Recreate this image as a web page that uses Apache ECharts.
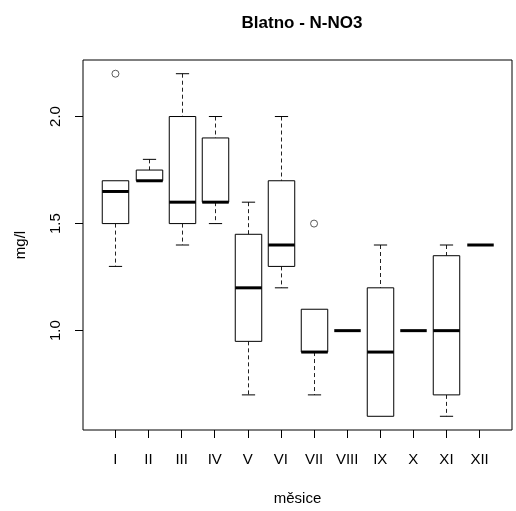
<!DOCTYPE html>
<html>
<head>
<meta charset="utf-8">
<script src="https://cdn.jsdelivr.net/npm/echarts@6/dist/echarts.min.js"></script>
<style>html,body{margin:0;padding:0;background:#fff}#c{width:516px;height:511px}</style>
</head>
<body>
<div id="c"></div>
<script>
// Months (categories)
const months = ['I','II','III','IV','V','VI','VII','VIII','IX','X','XI','XII'];
// Box statistics per month: lower whisker, Q1, median, Q3, upper whisker
const lowerWhisker = [1.3, 1.7, 1.4, 1.5, 0.7, 1.2, 0.7, 1.0, 0.6, 1.0, 0.6, 1.4];
const q1           = [1.5, 1.7, 1.5, 1.6, 0.95, 1.3, 0.9, 1.0, 0.6, 1.0, 0.7, 1.4];
const median       = [1.65, 1.7, 1.6, 1.6, 1.2, 1.4, 0.9, 1.0, 0.9, 1.0, 1.0, 1.4];
const q3           = [1.7, 1.75, 2.0, 1.9, 1.45, 1.7, 1.1, 1.0, 1.2, 1.0, 1.35, 1.4];
const upperWhisker = [1.7, 1.8, 2.2, 2.0, 1.6, 2.0, 1.1, 1.0, 1.4, 1.0, 1.4, 1.4];
// Outliers: [month index (1-based), value]
const outlierMonth = [1, 7];
const outlierValue = [2.2, 1.5];
// Tick values
const yTicks = [1.0, 1.5, 2.0];
const xTicks = [1,2,3,4,5,6,7,8,9,10,11,12];

const boxData = months.map((m, i) => [i + 1, lowerWhisker[i], q1[i], median[i], q3[i], upperWhisker[i]]);
const outData = outlierMonth.map((m, i) => [m, outlierValue[i]]);

const FONT = 'Liberation Sans, Arial, sans-serif';
const chart = echarts.init(document.getElementById('c'), null, {renderer: 'canvas'});

function renderBox(params, api) {
  const x = api.value(0);
  const lw = api.value(1), a = api.value(2), md = api.value(3), b = api.value(4), uw = api.value(5);
  const unit = api.size([1, 0])[0];
  const half = unit * 0.8 / 2;
  const capHalf = half / 2;
  const pLW = api.coord([x, lw]), pA = api.coord([x, a]), pM = api.coord([x, md]),
        pB = api.coord([x, b]), pUW = api.coord([x, uw]);
  const cx = Math.round(pM[0]) + 0.5;
  const children = [];
  const line = (x1, y1, x2, y2, w, dash, col) => ({
    type: 'line',
    shape: {x1, y1, x2, y2},
    style: {stroke: col || '#000', lineWidth: w, lineDash: dash || null, fill: null}
  });
  // whiskers
  if (uw > b) {
    children.push(line(cx, pUW[1], cx, pB[1], 1, [4, 3], '#222'));
    children.push(line(cx - capHalf, pUW[1], cx + capHalf, pUW[1], 1));
  }
  if (lw < a) {
    children.push(line(cx, pA[1], cx, pLW[1], 1, [4, 3], '#222'));
    children.push(line(cx - capHalf, pLW[1], cx + capHalf, pLW[1], 1));
  }
  // box
  if (b > a) {
    children.push({
      type: 'rect',
      shape: {x: cx - half, y: pB[1], width: half * 2, height: pA[1] - pB[1]},
      style: {stroke: '#000', lineWidth: 1, fill: '#fff'}
    });
  }
  // median
  children.push(line(cx - half, pM[1], cx + half, pM[1], 3));
  return {type: 'group', children};
}

chart.setOption({
  animation: false,
  backgroundColor: '#fff',
  title: {
    text: 'Blatno - N-NO3',
    left: 297, top: 10, textAlign: 'center',
    textStyle: {fontFamily: FONT, fontSize: 17, fontWeight: 'bold', color: '#000'}
  },
  grid: {left: 83, right: 4, top: 60, bottom: 80, show: true, borderColor: '#000', borderWidth: 1, backgroundColor: 'transparent'},
  xAxis: {
    type: 'value', min: 0.02, max: 12.98,
    name: 'měsice', nameLocation: 'middle', nameGap: 61,
    nameTextStyle: {fontFamily: FONT, fontSize: 15, color: '#000'},
    axisLine: {show: false},
    splitLine: {show: false},
    axisTick: {show: true, length: 8, lineStyle: {color: '#000'}, customValues: xTicks},
    axisLabel: {
      customValues: xTicks, margin: 22,
      fontFamily: FONT, fontSize: 15, color: '#000',
      formatter: v => months[Math.round(v) - 1] || ''
    }
  },
  yAxis: {
    type: 'value', min: 0.536, max: 2.264,
    name: 'mg/l', nameLocation: 'middle', nameGap: 55, nameRotate: 90,
    nameTextStyle: {fontFamily: FONT, fontSize: 15, color: '#000'},
    axisLine: {show: false},
    splitLine: {show: false},
    axisTick: {show: true, length: 8, lineStyle: {color: '#000'}, customValues: yTicks},
    axisLabel: {
      customValues: yTicks, margin: 20, rotate: 90,
      fontFamily: FONT, fontSize: 15, color: '#000',
      formatter: v => v.toFixed(1)
    }
  },
  series: [
    {
      type: 'custom',
      renderItem: renderBox,
      encode: {x: 0, y: [1, 2, 3, 4, 5]},
      data: boxData,
      z: 2
    },
    {
      type: 'scatter',
      data: outData,
      symbol: 'circle',
      symbolSize: 7,
      itemStyle: {color: 'rgba(255,255,255,0)', borderColor: '#333', borderWidth: 1},
      z: 3
    }
  ]
});
</script>
</body>
</html>
